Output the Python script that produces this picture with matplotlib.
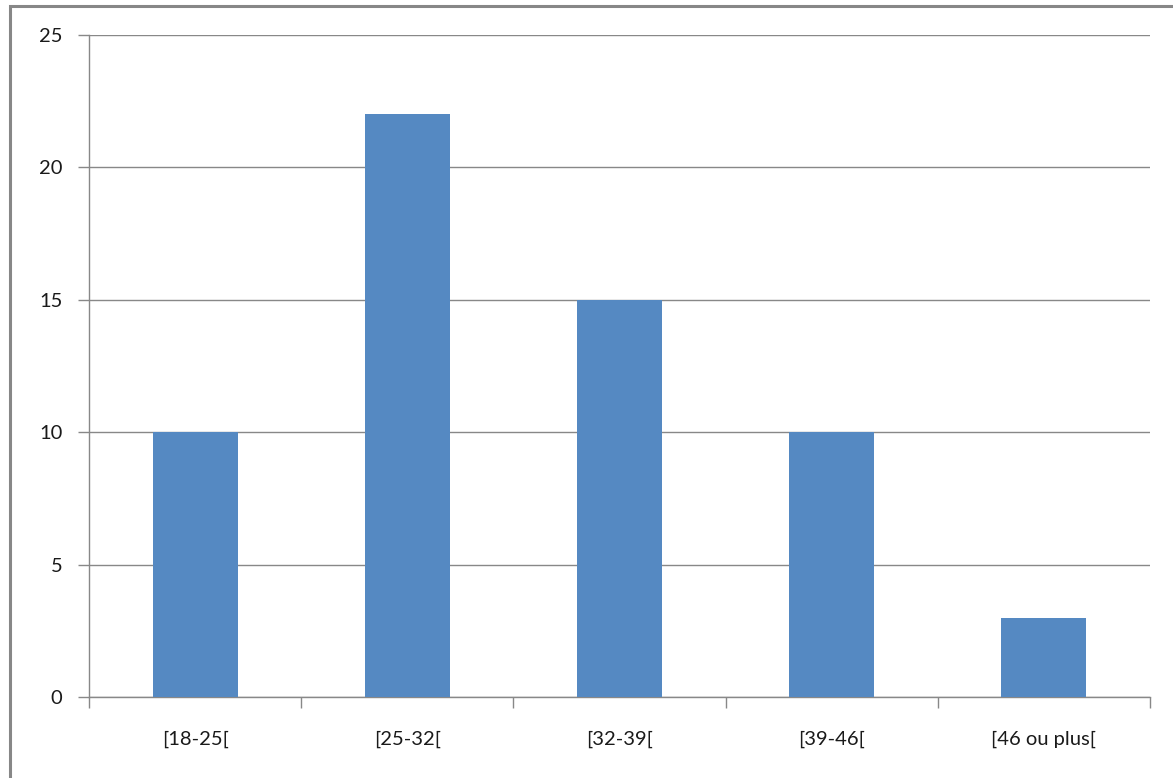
import matplotlib
matplotlib.use('Agg')

import matplotlib.pyplot as plt
from matplotlib.patches import Rectangle

# Data #
categories = ['[18-25[', '[25-32[', '[32-39[', '[39-46[', '[46 ou plus[']
counts = [10, 22, 15, 10, 3]
y_ticks = [0, 5, 10, 15, 20, 25]

plt.rcParams['font.family'] = ['Lato', 'DejaVu Sans']

# Generate the figure and define its parameters #
figure = plt.figure(figsize=(11.73, 7.78), dpi=100)
axis = figure.add_axes([89 / 1173, 81 / 778, 1061 / 1173, 662 / 778])

# Outer frame of the chart area (cropped on the right and bottom) #
figure.patches.append(Rectangle((10 / 1173, -0.1), 1.2, 1 - 6 / 778 + 0.1, transform=figure.transFigure,
                                fill=False, edgecolor='#878787', linewidth=2.2))

positions = list(range(len(categories)))
axis.bar(positions, counts, width=0.4, color='#5589c2', zorder=3)

axis.set_xlim(-0.5, len(categories) - 0.5)
axis.set_ylim(0, 25)
axis.set_yticks(y_ticks)
axis.yaxis.grid(True, color='#888888', linewidth=1.0, zorder=0)

# Ticks on the category boundaries, labels in the middle #
axis.set_xticks([p - 0.5 for p in positions] + [len(categories) - 0.5])
axis.set_xticklabels([])
axis.set_xticks(positions, minor=True)
axis.set_xticklabels(categories, minor=True, fontsize=14.5, color='#1a1a1a')
axis.tick_params(axis='x', which='major', direction='out', length=8, width=1, color='#888888')
axis.tick_params(axis='x', which='minor', length=0, pad=24)
axis.tick_params(axis='y', direction='out', length=8, width=1, color='#888888', pad=11, labelsize=14.5,
                 labelcolor='#1a1a1a')

for side in ['top', 'right']:
    axis.spines[side].set_visible(False)
for side in ['left', 'bottom']:
    axis.spines[side].set_color('#888888')
    axis.spines[side].set_linewidth(1.0)

plt.savefig('out.png', dpi=100)
